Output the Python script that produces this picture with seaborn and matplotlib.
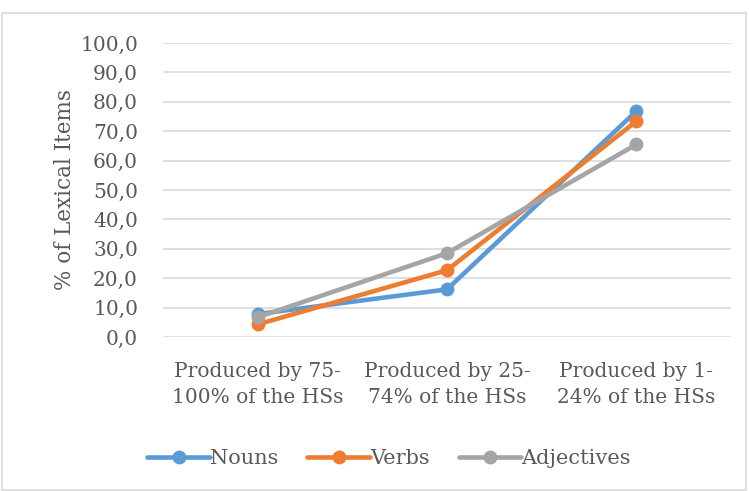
import pandas as pd
import matplotlib.pyplot as plt
import seaborn as sns
from matplotlib.patches import Rectangle

categories = ["Produced by 75-\n100% of the HSs",
              "Produced by 25-\n74% of the HSs",
              "Produced by 1-\n24% of the HSs"]
nouns = [7.8, 16.2, 76.8]
verbs = [4.3, 22.7, 73.4]
adjectives = [6.7, 28.5, 65.5]
series_names = ["Nouns", "Verbs", "Adjectives"]
colors = ["#5B9BD5", "#ED7D31", "#A5A5A5"]

rows = []
for name, vals in zip(series_names, [nouns, verbs, adjectives]):
    for c, v in zip(categories, vals):
        rows.append({"cat": c, "val": v, "series": name})
df = pd.DataFrame(rows)

sns.set_style("white")
plt.rcParams['font.family'] = ['DejaVu Serif']

fs = 14.5
fig = plt.figure(figsize=(7.49, 4.91), dpi=100)
ax = fig.add_axes([163 / 749, 1 - 337 / 491, 568 / 749, 294 / 491])

sns.lineplot(data=df, x="cat", y="val", hue="series", palette=colors,
             marker="o", markersize=10, markeredgewidth=0, linewidth=3.3,
             sort=False, ax=ax, legend=True)

ax.set_ylim(0, 100)
ax.set_xlim(-0.5, 2.5)
ax.set_yticks(range(0, 101, 10))
ax.set_yticklabels([f"{v},0" for v in range(0, 101, 10)])
ax.yaxis.grid(True, color="#D9D9D9", linewidth=1.2)
ax.set_axisbelow(True)
for s in ax.spines.values():
    s.set_visible(False)
ax.tick_params(axis="both", length=0, labelsize=fs, colors="#595959")
ax.tick_params(axis="x", pad=18)
ax.tick_params(axis="y", pad=18)
for lbl in ax.get_xticklabels():
    lbl.set_linespacing(1.45)
ax.set_xlabel("")
ax.set_ylabel("% of Lexical Items", fontsize=15.5, color="#595959", labelpad=3)

leg = ax.legend(loc="center", bbox_to_anchor=(389 / 749, 1 - 459 / 491), bbox_transform=fig.transFigure,
                ncol=3, frameon=False,
                fontsize=15, labelcolor="#595959", handlelength=3.0,
                handletextpad=0.0, columnspacing=1.4)

fig.patches.append(Rectangle((2 / 749, 1 / 491), 744 / 749, 477 / 491,
                             transform=fig.transFigure, fill=False,
                             edgecolor="#D9D9D9", linewidth=1.2))

fig.savefig("out.png", dpi=100)
